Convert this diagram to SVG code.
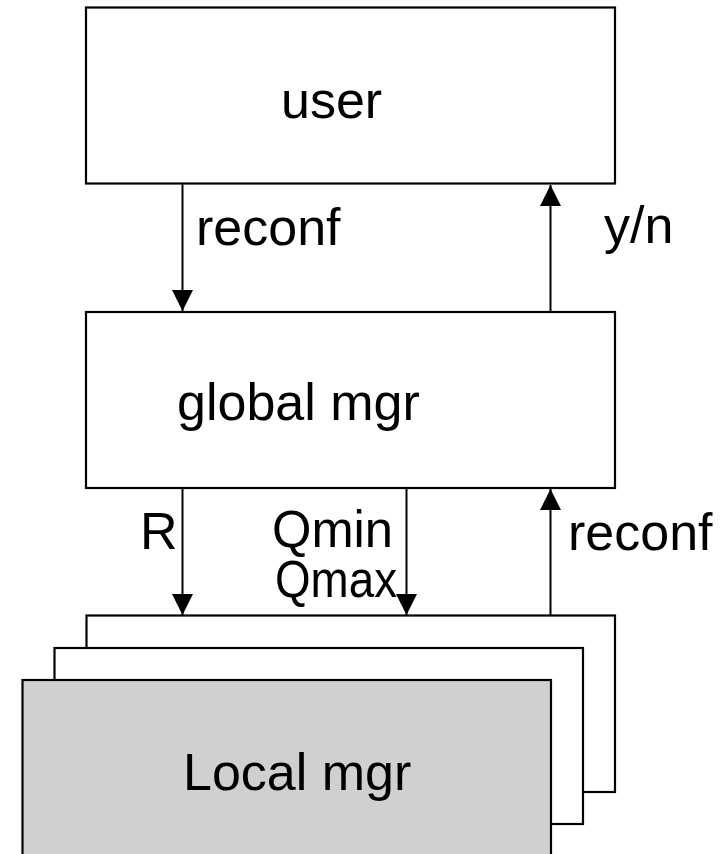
<svg xmlns="http://www.w3.org/2000/svg" width="724" height="854" viewBox="0 0 724 854">
<defs>
<style>
.box{fill:#fff;stroke:#000;stroke-width:2.2}
.local{fill:#d0d0d0;stroke:#000;stroke-width:2.2}
.edge{stroke:#000;stroke-width:2;fill:none}
text{font-family:"Liberation Sans",Arial,sans-serif;font-size:52px;fill:#000}
</style>
<marker id="ah" viewBox="0 0 22 21" refX="22" refY="11" markerWidth="21" markerHeight="22" markerUnits="userSpaceOnUse" orient="auto">
<path d="M0,0 L22,11 L0,22 Z" fill="#000"/>
</marker>
</defs>
<rect width="724" height="854" fill="#fff"/>
<g id="user">
<rect class="box" x="86" y="7.5" width="529" height="176"/>
<text x="281" y="118">user</text>
</g>
<g id="global">
<rect class="box" x="86" y="312" width="529" height="176"/>
<text x="177" y="420">global mgr</text>
</g>
<g id="local-stack">
<rect class="box" x="86.5" y="615.5" width="528.5" height="176.5"/>
<rect class="box" x="54.5" y="648" width="528.5" height="176"/>
<rect class="local" x="22.5" y="680" width="528.5" height="190"/>
<text x="183" y="790">Local mgr</text>
</g>
<g id="connectors">
<line class="edge" x1="182.5" y1="183.5" x2="182.5" y2="311" marker-end="url(#ah)"/>
<line class="edge" x1="550.5" y1="312" x2="550.5" y2="185" marker-end="url(#ah)"/>
<line class="edge" x1="182.5" y1="488" x2="182.5" y2="615" marker-end="url(#ah)"/>
<line class="edge" x1="406.5" y1="488" x2="406.5" y2="615" marker-end="url(#ah)"/>
<line class="edge" x1="550.5" y1="615.5" x2="550.5" y2="489" marker-end="url(#ah)"/>
</g>
<g id="labels">
<text x="196" y="245">reconf</text>
<text x="604" y="243">y/n</text>
<text x="140" y="549">R</text>
<text x="272" y="547" textLength="121" lengthAdjust="spacingAndGlyphs">Qmin</text>
<text x="275" y="597" textLength="122" lengthAdjust="spacingAndGlyphs">Qmax</text>
<text x="568" y="550">reconf</text>
</g>
</svg>
